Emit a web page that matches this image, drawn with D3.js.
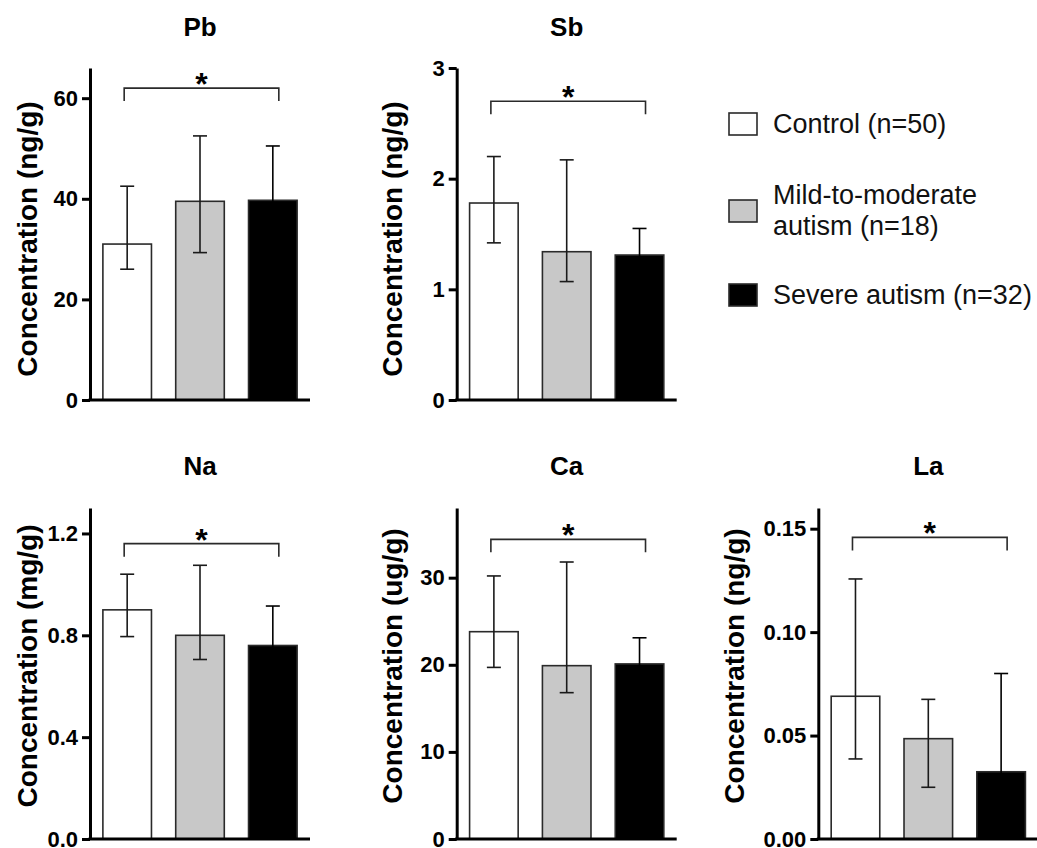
<!DOCTYPE html>
<html>
<head>
<meta charset="utf-8">
<script src="https://cdn.jsdelivr.net/npm/d3@7"></script>
<style>
  html, body { margin: 0; padding: 0; background: #fff; }
  svg { display: block; font-family: "Liberation Sans", Arial, sans-serif; }
</style>
</head>
<body>
<svg id="chart" width="1037" height="848"></svg>
<script>
// ---- data ----
const groups = ["Control (n=50)", "Mild-to-moderate autism (n=18)", "Severe autism (n=32)"];
const groupFills = ["#ffffff", "#c8c8c8", "#000000"];

const elements = ["Pb", "Sb", "Na", "Ca", "La"];
const units = ["ng/g", "ng/g", "mg/g", "ug/g", "ng/g"];

const pbMean = [31.0, 39.5, 39.7];
const pbUpper = [42.5, 52.5, 50.5];
const pbLower = [26.0, 29.3, 29.0];
const pbTicks = [0, 20, 40, 60];
const pbMax = 66;
const pbSig = 62;

const sbMean = [1.78, 1.34, 1.31];
const sbUpper = [2.20, 2.17, 1.55];
const sbLower = [1.42, 1.07, 1.07];
const sbTicks = [0, 1, 2, 3];
const sbMax = 3;
const sbSig = 2.70;

const naMean = [0.90, 0.80, 0.76];
const naUpper = [1.04, 1.075, 0.915];
const naLower = [0.795, 0.705, 0.62];
const naTicks = [0, 0.4, 0.8, 1.2];
const naMax = 1.3;
const naSig = 1.16;

const caMean = [23.8, 19.9, 20.1];
const caUpper = [30.2, 31.8, 23.1];
const caLower = [19.7, 16.8, 17.0];
const caTicks = [0, 10, 20, 30];
const caMax = 38;
const caSig = 34.4;

const laMean = [0.069, 0.0485, 0.0325];
const laUpper = [0.1257, 0.0675, 0.080];
const laLower = [0.0387, 0.025, 0.012];
const laTicks = [0, 0.05, 0.10, 0.15];
const laMax = 0.16;
const laSig = 0.1458;

const tickFormats = ["d", "d", ".1f", "d", ".2f"];

// ---- layout ----
const svg = d3.select("#chart");
const colAxisX = [90, 456.7, 818.3];
const colLabelX = [27.5, 392, 734];
const rowTop = [68, 508];
const rowBottom = [400, 839];
const rowTitleY = [36, 475];
const rowLabelY = [239, 666];
const axisLen = 220;

const panels = [
  { el: 0, col: 0, row: 0, mean: pbMean, up: pbUpper, lo: pbLower, ticks: pbTicks, max: pbMax, sig: pbSig },
  { el: 1, col: 1, row: 0, mean: sbMean, up: sbUpper, lo: sbLower, ticks: sbTicks, max: sbMax, sig: sbSig },
  { el: 2, col: 0, row: 1, mean: naMean, up: naUpper, lo: naLower, ticks: naTicks, max: naMax, sig: naSig },
  { el: 3, col: 1, row: 1, mean: caMean, up: caUpper, lo: caLower, ticks: caTicks, max: caMax, sig: caSig },
  { el: 4, col: 2, row: 1, mean: laMean, up: laUpper, lo: laLower, ticks: laTicks, max: laMax, sig: laSig }
];

panels.forEach(p => {
  const x0 = colAxisX[p.col];
  const yTop = rowTop[p.row], yBot = rowBottom[p.row];
  const g = svg.append("g");

  const x = d3.scaleBand().domain([0, 1, 2]).range([x0, x0 + axisLen])
    .paddingInner(0.333).paddingOuter(0.177);
  const y = d3.scaleLinear().domain([0, p.max]).range([yBot, yTop]);

  // bars
  g.selectAll("rect.bar").data(p.mean).join("rect")
    .attr("x", (d, i) => x(i))
    .attr("y", d => y(d))
    .attr("width", x.bandwidth())
    .attr("height", d => y(0) - y(d))
    .attr("fill", (d, i) => groupFills[i])
    .attr("stroke", "#2a2a2a")
    .attr("stroke-width", 1.6);

  // error bars
  const cap = 7;
  p.mean.forEach((m, i) => {
    const cx = x(i) + x.bandwidth() / 2;
    const col = i === 2 ? "#000" : "#1a1a1a";
    g.append("line").attr("x1", cx).attr("x2", cx).attr("y1", y(p.up[i])).attr("y2", y(p.lo[i]))
      .attr("stroke", col).attr("stroke-width", 1.6);
    g.append("line").attr("x1", cx - cap).attr("x2", cx + cap).attr("y1", y(p.up[i])).attr("y2", y(p.up[i]))
      .attr("stroke", col).attr("stroke-width", 1.6);
    g.append("line").attr("x1", cx - cap).attr("x2", cx + cap).attr("y1", y(p.lo[i])).attr("y2", y(p.lo[i]))
      .attr("stroke", col).attr("stroke-width", 1.6);
  });

  // y axis
  const yAxis = d3.axisLeft(y).tickValues(p.ticks).tickFormat(d3.format(tickFormats[p.el]))
    .tickSize(8).tickPadding(4).tickSizeOuter(0);
  const ya = g.append("g").attr("transform", `translate(${x0},0)`).call(yAxis);
  ya.attr("font-size", 22).attr("font-family", "Liberation Sans, Arial, sans-serif");
  ya.select(".domain").attr("stroke", "#000").attr("stroke-width", 3);
  ya.selectAll(".tick line").attr("stroke", "#000").attr("stroke-width", 3);
  ya.selectAll(".tick text").attr("fill", "#000").attr("font-size", 22).attr("font-weight", "bold");

  // x axis line
  g.append("line").attr("x1", x0 - 1.5).attr("x2", x0 + axisLen).attr("y1", yBot).attr("y2", yBot)
    .attr("stroke", "#000").attr("stroke-width", 3);

  // significance bracket
  const bx1 = x(0) + x.bandwidth() / 2 - 3;
  const bx2 = x(2) + x.bandwidth() / 2 + 6;
  const by = y(p.sig);
  g.append("path")
    .attr("d", `M${bx1},${by + 13}V${by}H${bx2}V${by + 13}`)
    .attr("fill", "none").attr("stroke", "#2a2a2a").attr("stroke-width", 1.6);
  g.append("text").attr("x", (bx1 + bx2) / 2).attr("y", by + 7)
    .attr("text-anchor", "middle").attr("font-size", 32).attr("font-weight", "bold").text("*");

  // title
  g.append("text").attr("x", x0 + axisLen / 2).attr("y", rowTitleY[p.row])
    .attr("text-anchor", "middle").attr("font-size", 26).attr("font-weight", "bold")
    .text(elements[p.el]);

  // y label
  g.append("text")
    .attr("transform", `translate(${colLabelX[p.col]},${rowLabelY[p.row]}) rotate(-90)`)
    .attr("text-anchor", "middle").attr("dominant-baseline", "central")
    .attr("font-size", 28).attr("font-weight", "bold")
    .text(`Concentration (${units[p.el]})`);
});

// ---- legend ----
const legendRows = [
  { i: 0, boxY: 113, lines: [groups[0]], baselines: [133] },
  { i: 1, boxY: 200, lines: ["Mild-to-moderate", "autism (n=18)"], baselines: [203.5, 235] },
  { i: 2, boxY: 284, lines: [groups[2]], baselines: [303.5] }
];
const lg = svg.append("g");
legendRows.forEach(r => {
  lg.append("rect").attr("x", 729).attr("y", r.boxY).attr("width", 28).attr("height", 22)
    .attr("fill", groupFills[r.i]).attr("stroke", "#2a2a2a").attr("stroke-width", 1.6);
  r.lines.forEach((t, k) => {
    lg.append("text").attr("x", 773).attr("y", r.baselines[k])
      .attr("font-size", 27).attr("fill", "#111").text(t);
  });
});
</script>
</body>
</html>
